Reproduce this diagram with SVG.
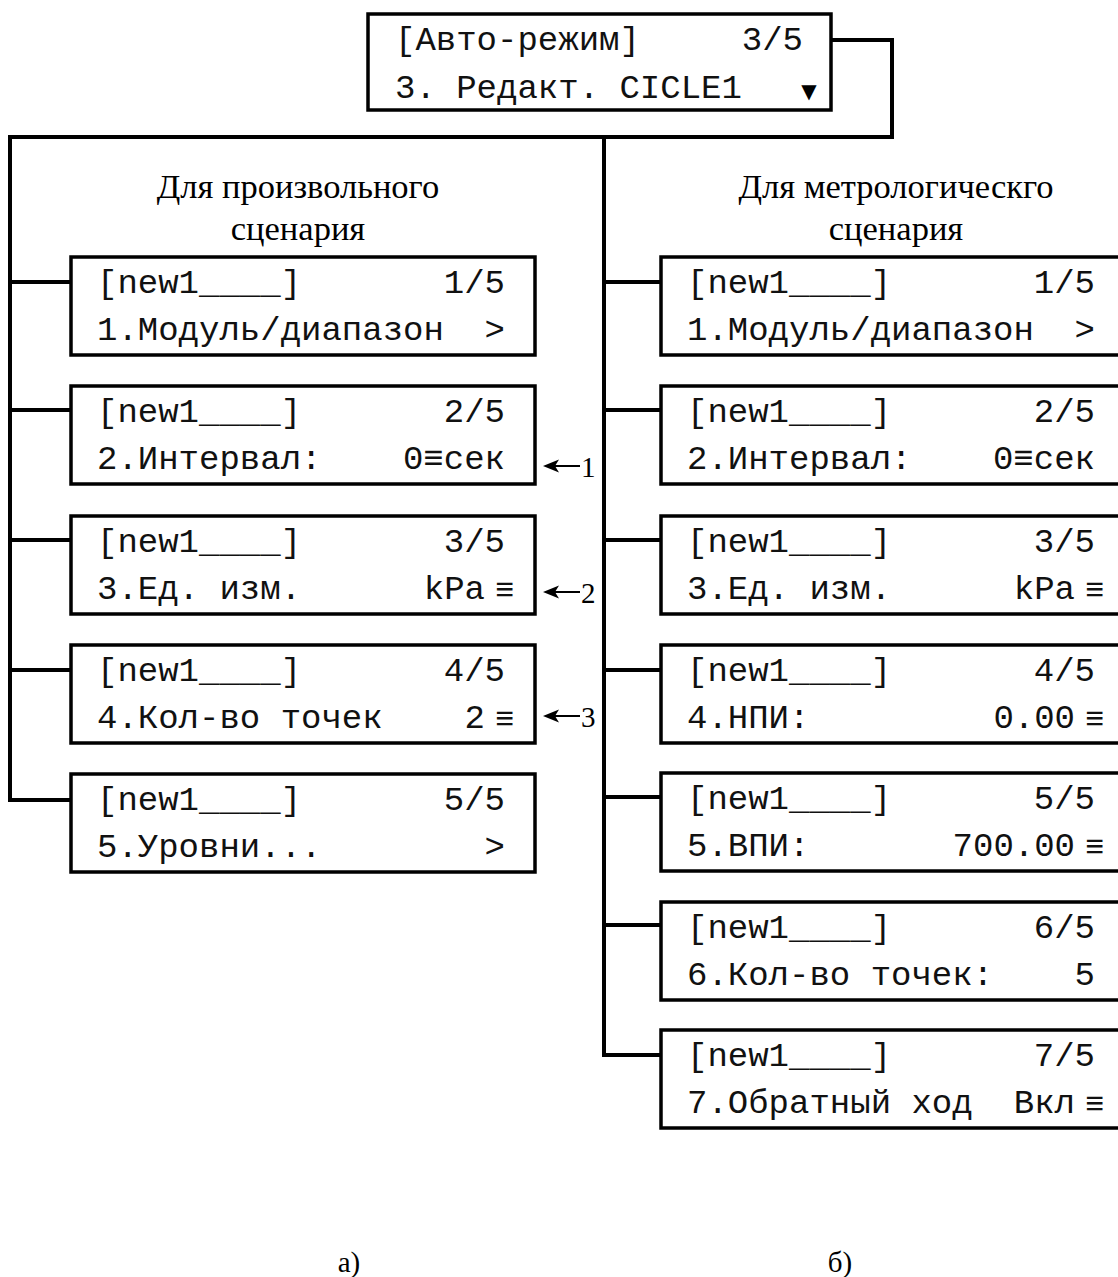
<svg xmlns="http://www.w3.org/2000/svg" width="1118" height="1277" viewBox="0 0 1118 1277">
<style>
.box{fill:#fff;stroke:#000;stroke-width:3.5}
.ln{fill:none;stroke:#000;stroke-width:4}
.m{font-family:"Liberation Mono","DejaVu Sans Mono",monospace;font-size:34px;fill:#111}
.e{text-anchor:end}
.eq{font-family:"Liberation Mono","DejaVu Sans Mono",monospace;font-size:32px;fill:#111}
.h{font-family:"Liberation Serif","Times New Roman",serif;font-size:34.5px;fill:#000;text-anchor:middle}
.n{font-family:"Liberation Serif","Times New Roman",serif;font-size:29px;fill:#000}
.cap{font-family:"Liberation Serif","Times New Roman",serif;font-size:29px;fill:#000;text-anchor:middle}
.arr{fill:none;stroke:#000;stroke-width:2}
.ah{fill:#000}
</style>
<g id="connectors">
<polyline class="ln" points="831,40 892,40 892,137 10,137 10,800 71,800"/>
<line class="ln" x1="10" y1="282" x2="71" y2="282"/>
<line class="ln" x1="10" y1="410" x2="71" y2="410"/>
<line class="ln" x1="10" y1="540" x2="71" y2="540"/>
<line class="ln" x1="10" y1="670" x2="71" y2="670"/>
<polyline class="ln" points="604,137 604,1055 661,1055"/>
<line class="ln" x1="604" y1="282" x2="661" y2="282"/>
<line class="ln" x1="604" y1="410" x2="661" y2="410"/>
<line class="ln" x1="604" y1="540" x2="661" y2="540"/>
<line class="ln" x1="604" y1="670" x2="661" y2="670"/>
<line class="ln" x1="604" y1="797" x2="661" y2="797"/>
<line class="ln" x1="604" y1="925" x2="661" y2="925"/>
<line class="arr" x1="580" y1="466" x2="555" y2="466"/>
<path class="ah" d="M543,466 L559,459.5 L555,466 L559,472.5 Z"/>
<line class="arr" x1="580" y1="592" x2="555" y2="592"/>
<path class="ah" d="M543,592 L559,585.5 L555,592 L559,598.5 Z"/>
<line class="arr" x1="580" y1="716" x2="555" y2="716"/>
<path class="ah" d="M543,716 L559,709.5 L555,716 L559,722.5 Z"/>
</g>
<g id="top">
<rect class="box" x="368" y="14" width="463" height="96"/>
<text class="m" x="395" y="50">[Авто-режим]</text>
<text class="m e" x="803" y="50">3/5</text>
<text class="m" x="395" y="98">3. Редакт. CICLE1</text>
<text x="809" y="98" font-family="DejaVu Sans,sans-serif" font-size="20" text-anchor="middle">▼</text>
</g>
<g id="heading-a">
<text class="h" x="298" y="198">Для произвольного</text>
<text class="h" x="298" y="240">сценария</text>
</g>
<g id="heading-b">
<text class="h" x="896" y="198">Для метрологическго</text>
<text class="h" x="896" y="240">сценария</text>
</g>
<g id="a1">
<rect class="box" x="71" y="257" width="464" height="98"/>
<text class="m" x="97" y="293">[new1____]</text>
<text class="m e" x="505" y="293">1/5</text>
<text class="m" x="97" y="340">1.Модуль/диапазон</text>
<text class="m e" x="505" y="340">&gt;</text>
</g>
<g id="a2">
<rect class="box" x="71" y="386" width="464" height="98"/>
<text class="m" x="97" y="422">[new1____]</text>
<text class="m e" x="505" y="422">2/5</text>
<text class="m" x="97" y="469">2.Интервал:</text>
<text class="m e" x="505" y="469">0≡сек</text>
</g>
<g id="a3">
<rect class="box" x="71" y="516" width="464" height="98"/>
<text class="m" x="97" y="552">[new1____]</text>
<text class="m e" x="505" y="552">3/5</text>
<text class="m" x="97" y="599">3.Ед. изм.</text>
<text class="m e" x="485" y="599">kPa</text>
<text class="eq" x="495" y="600">≡</text>
</g>
<g id="a4">
<rect class="box" x="71" y="645" width="464" height="98"/>
<text class="m" x="97" y="681">[new1____]</text>
<text class="m e" x="505" y="681">4/5</text>
<text class="m" x="97" y="728">4.Кол-во точек</text>
<text class="m e" x="485" y="728">2</text>
<text class="eq" x="495" y="729">≡</text>
</g>
<g id="a5">
<rect class="box" x="71" y="774" width="464" height="98"/>
<text class="m" x="97" y="810">[new1____]</text>
<text class="m e" x="505" y="810">5/5</text>
<text class="m" x="97" y="857">5.Уровни...</text>
<text class="m e" x="505" y="857">&gt;</text>
</g>
<g id="b1">
<rect class="box" x="661" y="257" width="470" height="98"/>
<text class="m" x="687" y="293">[new1____]</text>
<text class="m e" x="1095" y="293">1/5</text>
<text class="m" x="687" y="340">1.Модуль/диапазон</text>
<text class="m e" x="1095" y="340">&gt;</text>
</g>
<g id="b2">
<rect class="box" x="661" y="386" width="470" height="98"/>
<text class="m" x="687" y="422">[new1____]</text>
<text class="m e" x="1095" y="422">2/5</text>
<text class="m" x="687" y="469">2.Интервал:</text>
<text class="m e" x="1095" y="469">0≡сек</text>
</g>
<g id="b3">
<rect class="box" x="661" y="516" width="470" height="98"/>
<text class="m" x="687" y="552">[new1____]</text>
<text class="m e" x="1095" y="552">3/5</text>
<text class="m" x="687" y="599">3.Ед. изм.</text>
<text class="m e" x="1075" y="599">kPa</text>
<text class="eq" x="1085" y="600">≡</text>
</g>
<g id="b4">
<rect class="box" x="661" y="645" width="470" height="98"/>
<text class="m" x="687" y="681">[new1____]</text>
<text class="m e" x="1095" y="681">4/5</text>
<text class="m" x="687" y="728">4.НПИ:</text>
<text class="m e" x="1075" y="728">0.00</text>
<text class="eq" x="1085" y="729">≡</text>
</g>
<g id="b5">
<rect class="box" x="661" y="773" width="470" height="98"/>
<text class="m" x="687" y="809">[new1____]</text>
<text class="m e" x="1095" y="809">5/5</text>
<text class="m" x="687" y="856">5.ВПИ:</text>
<text class="m e" x="1075" y="856">700.00</text>
<text class="eq" x="1085" y="857">≡</text>
</g>
<g id="b6">
<rect class="box" x="661" y="902" width="470" height="98"/>
<text class="m" x="687" y="938">[new1____]</text>
<text class="m e" x="1095" y="938">6/5</text>
<text class="m" x="687" y="985">6.Кол-во точек:</text>
<text class="m e" x="1095" y="985">5</text>
</g>
<g id="b7">
<rect class="box" x="661" y="1030" width="470" height="98"/>
<text class="m" x="687" y="1066">[new1____]</text>
<text class="m e" x="1095" y="1066">7/5</text>
<text class="m" x="687" y="1113">7.Обратный ход</text>
<text class="m e" x="1075" y="1113">Вкл</text>
<text class="eq" x="1085" y="1114">≡</text>
</g>
<g id="labels">
<text class="n" x="581" y="477">1</text>
<text class="n" x="581" y="603">2</text>
<text class="n" x="581" y="727">3</text>
<text class="cap" x="349" y="1272">а)</text>
<text class="cap" x="840" y="1272">б)</text>
</g>
</svg>
